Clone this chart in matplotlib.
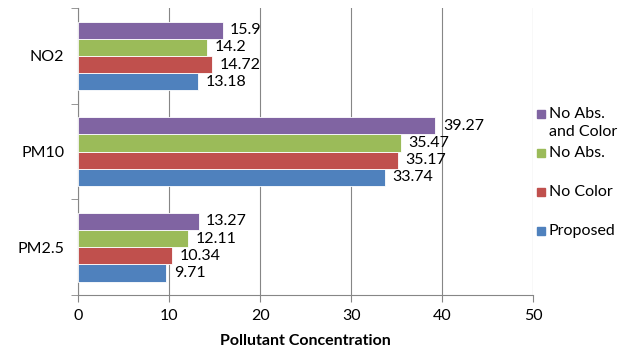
import numpy as np
import matplotlib.pyplot as plt
from matplotlib.patches import Rectangle

plt.rcParams['font.family'] = ['Lato', 'DejaVu Sans']

categories = ['PM2.5', 'PM10', 'NO2']
series = ['Proposed', 'No Color', 'No Abs.', 'No Abs.\nand Color']
proposed = [9.71, 33.74, 13.18]
no_color = [10.34, 35.17, 14.72]
no_abs = [12.11, 35.47, 14.2]
no_abs_color = [13.27, 39.27, 15.9]
colors = ['#4F81BD', '#C0504D', '#9BBB59', '#8064A2']

values = [proposed, no_color, no_abs, no_abs_color]
fs = 11.5

fig = plt.figure(figsize=[6.37, 3.54], dpi=100)
ax = fig.add_axes([0.1225, 0.1667, 0.7145, 0.8103])

h = 0.18
y = np.arange(len(categories))
for i, (vals, c) in enumerate(zip(values, colors)):
    pos = y + (i - 1.5) * h
    ax.barh(pos, vals, height=h, color=c, edgecolor='white', linewidth=0.6, zorder=3)
    for p, v in zip(pos, vals):
        ax.text(v + 0.8, p, f'{v:g}', va='center', ha='left', fontsize=fs, zorder=4)

ax.set_xlim(0, 50)
ax.set_ylim(-0.5, 2.5)
ax.set_xticks(range(0, 51, 10))
ax.set_yticks(y)
ax.set_yticklabels(categories)
ax.set_yticks([-0.5, 0.5, 1.5, 2.5], minor=True)
ax.tick_params(axis='y', which='major', length=0, pad=10, labelsize=fs)
ax.tick_params(axis='y', which='minor', length=5, color='#868686', direction='out')
ax.tick_params(axis='x', length=5, color='#868686', direction='out', labelsize=fs, pad=5)
ax.grid(axis='x', color='#868686', linewidth=0.8, zorder=0)
for s in ['top', 'right']:
    ax.spines[s].set_visible(False)
for s in ['left', 'bottom']:
    ax.spines[s].set_color('#868686')
ax.set_xlabel('Pollutant Concentration', fontweight='bold', fontsize=fs, labelpad=8)

# legend drawn manually (top entry first)
leg_y = [114, 153, 192, 231]
for name, c, yy in zip(series[::-1], colors[::-1], leg_y):
    fy = 1 - yy / 354
    fig.add_artist(Rectangle((537 / 637, fy - 4 / 354), 8 / 637, 8 / 354,
                             color=c, transform=fig.transFigure))
    fig.text(549 / 637, fy + 7 / 354, name, va='top', ha='left', fontsize=fs,
             linespacing=1.4)

plt.savefig('out.png', dpi=100)
